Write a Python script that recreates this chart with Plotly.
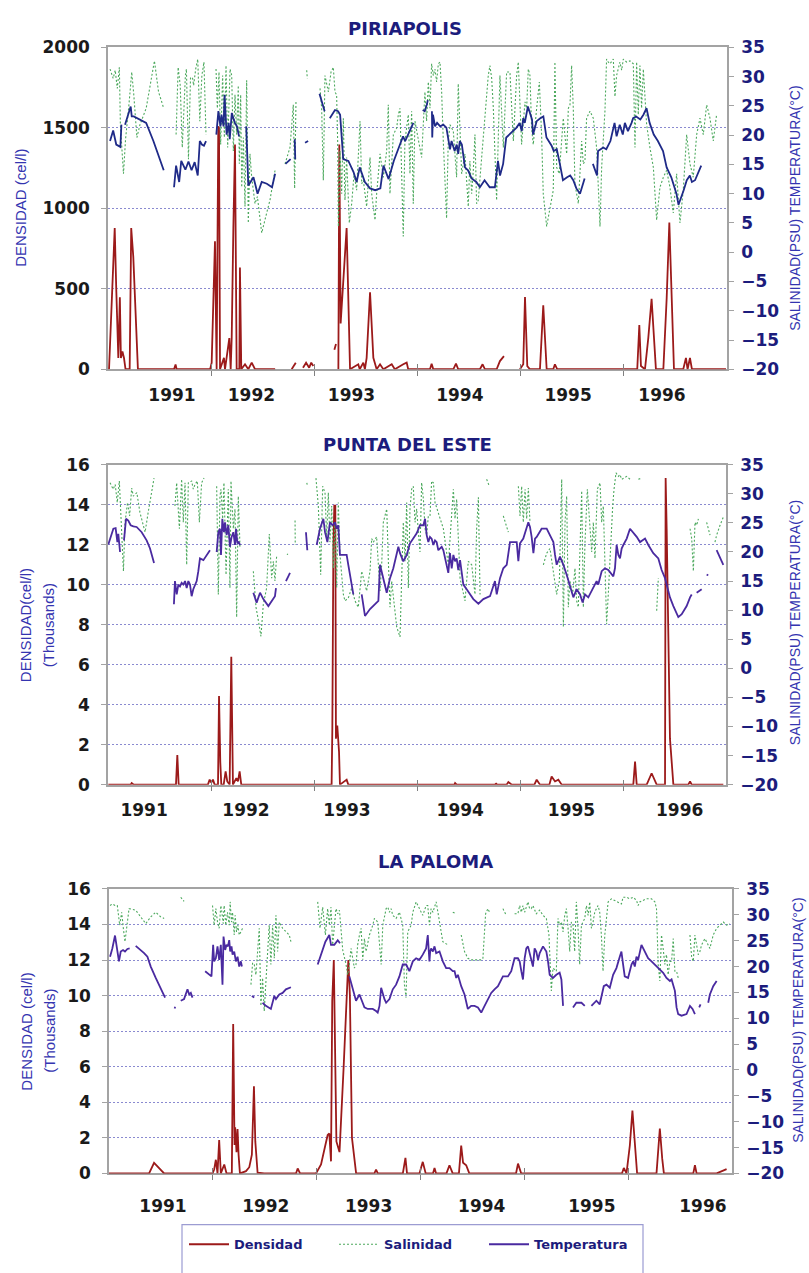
import plotly.graph_objects as go

# ---------------------------------------------------------------------------
# Data: (decimal year, value) segments; a new segment starts after a gap.
# Temperature / salinity on the right axis, density on the left axis.
# ---------------------------------------------------------------------------
YEAR_LABELS = ["1991", "1992", "1993", "1994", "1995", "1996"]
YEAR_BOUNDS = [1991, 1992, 1993, 1994, 1995, 1996, 1997]

piri_label_pos = [1991.62, 1992.39, 1993.36, 1994.41, 1995.46, 1996.37]
punta_label_pos = [1991.35, 1992.34, 1993.32, 1994.42, 1995.50, 1996.55]
paloma_label_pos = [1991.52, 1992.51, 1993.50, 1994.59, 1995.65, 1996.72]

# ----------------------------- PIRIAPOLIS ---------------------------------
piri_temp = [
    [(1991.02, 19.0), (1991.05, 20.8), (1991.08, 18.4), (1991.12, 18.0), (1991.13, 21.8)],
    [(1991.165, 21.8), (1991.21, 24.6), (1991.22, 24.9), (1991.23, 23.2), (1991.25, 23.2),
     (1991.37, 22.1), (1991.44, 19.0), (1991.54, 14.0)],
    [(1991.64, 11.1), (1991.66, 14.8), (1991.69, 12.0), (1991.71, 15.6), (1991.75, 14.1),
     (1991.78, 15.5), (1991.81, 14.0), (1991.84, 15.4), (1991.87, 13.1), (1991.89, 19.0),
     (1991.91, 18.4), (1991.93, 18.2), (1991.95, 19.0)],
    [(1992.05, 20.1), (1992.07, 24.1), (1992.09, 21.5), (1992.10, 23.5), (1992.12, 21.5),
     (1992.13, 26.9), (1992.15, 20.1), (1992.17, 22.1), (1992.18, 19.3), (1992.20, 23.8),
     (1992.215, 22.9), (1992.23, 22.1), (1992.25, 21.5), (1992.26, 20.7), (1992.27, 19.8)],
    [(1992.34, 21.5), (1992.36, 11.4), (1992.41, 12.8), (1992.45, 10.0), (1992.49, 12.0),
     (1992.54, 11.7), (1992.59, 11.1), (1992.62, 13.4)],
    [(1992.72, 15.1), (1992.77, 15.9)],
    [(1992.81, 19.3), (1992.815, 15.9)],
    [(1992.91, 18.7), (1992.94, 19.0)],
    [(1993.05, 27.1), (1993.10, 24.1)],
    [(1993.15, 22.9), (1993.20, 24.3), (1993.23, 24.1), (1993.25, 23.5), (1993.28, 15.9),
     (1993.33, 15.6), (1993.38, 13.7), (1993.41, 12.0), (1993.44, 14.5), (1993.49, 12.0),
     (1993.54, 10.9), (1993.59, 10.6), (1993.64, 10.9), (1993.67, 14.8), (1993.72, 12.5),
     (1993.77, 15.6), (1993.83, 18.4), (1993.86, 19.8), (1993.88, 19.0), (1993.91, 20.1),
     (1993.96, 22.1)],
    [(1994.05, 24.3), (1994.07, 24.1), (1994.09, 25.2), (1994.10, 26.0)],
    [(1994.14, 24.1), (1994.143, 19.6), (1994.15, 23.5), (1994.17, 21.5), (1994.19, 22.1),
     (1994.22, 21.5), (1994.25, 21.8), (1994.28, 21.3), (1994.315, 17.6), (1994.33, 19.0),
     (1994.36, 17.3), (1994.38, 18.4), (1994.395, 16.8), (1994.41, 19.0), (1994.43, 18.4),
     (1994.46, 14.5), (1994.49, 14.0), (1994.525, 12.6), (1994.57, 12.0), (1994.605, 11.1),
     (1994.65, 12.3), (1994.70, 11.1), (1994.75, 11.1), (1994.78, 15.6), (1994.80, 13.1),
     (1994.83, 15.1), (1994.86, 19.6), (1994.91, 20.4), (1994.96, 21.3), (1994.99, 22.1),
     (1995.01, 20.7), (1995.025, 22.9), (1995.04, 22.1), (1995.07, 24.9), (1995.11, 22.7),
     (1995.12, 20.1), (1995.155, 22.4), (1995.19, 22.9), (1995.22, 23.2), (1995.25, 19.6),
     (1995.30, 18.2), (1995.32, 17.3), (1995.35, 17.6), (1995.38, 15.1), (1995.41, 12.3),
     (1995.45, 12.8), (1995.48, 13.1), (1995.51, 12.3), (1995.54, 10.9), (1995.575, 10.0),
     (1995.61, 12.3), (1995.62, 12.6)],
    [(1995.70, 15.1), (1995.74, 13.1), (1995.75, 17.3), (1995.80, 17.9), (1995.83, 17.6),
     (1995.87, 19.0), (1995.91, 22.1), (1995.93, 19.8), (1995.96, 21.8), (1995.99, 20.1),
     (1996.01, 22.1), (1996.04, 20.7), (1996.075, 22.1), (1996.09, 22.9), (1996.12, 23.2),
     (1996.16, 22.7), (1996.19, 23.5), (1996.22, 24.6), (1996.25, 22.1), (1996.29, 20.1),
     (1996.33, 19.0), (1996.38, 17.3), (1996.415, 14.5), (1996.46, 12.8), (1996.51, 10.0),
     (1996.53, 8.1), (1996.58, 10.6), (1996.61, 12.3), (1996.64, 13.1), (1996.66, 12.0),
     (1996.69, 12.3), (1996.72, 13.7), (1996.75, 14.8)],
]

piri_sal = [
    [(1991.02, 31.3), (1991.05, 29.7), (1991.07, 31.1), (1991.09, 28.0), (1991.11, 31.6),
     (1991.12, 21.8), (1991.15, 13.4), (1991.17, 19.3), (1991.20, 24.6), (1991.23, 30.8),
     (1991.25, 26.9), (1991.28, 19.6), (1991.31, 21.8), (1991.37, 24.6), (1991.45, 32.7),
     (1991.49, 27.4), (1991.54, 24.6)],
    [(1991.66, 20.1), (1991.68, 31.6), (1991.70, 28.5), (1991.72, 17.9), (1991.75, 30.2),
     (1991.76, 31.3), (1991.78, 15.9), (1991.80, 29.9), (1991.82, 29.7), (1991.83, 28.5),
     (1991.85, 31.3), (1991.87, 33.0), (1991.89, 22.4), (1991.91, 30.2), (1991.93, 32.5),
     (1991.95, 20.1)],
    [(1992.047, 31.3), (1992.06, 24.6), (1992.076, 30.8), (1992.092, 18.4), (1992.111, 30.2),
     (1992.128, 19.6), (1992.144, 31.9), (1992.16, 17.9), (1992.183, 31.3), (1992.199, 30.2),
     (1992.215, 17.3), (1992.231, 26.9), (1992.247, 20.1), (1992.263, 28.5), (1992.273, 15.1),
     (1992.286, 26.9), (1992.296, 11.1), (1992.312, 19.6), (1992.328, 7.8), (1992.344, 29.4),
     (1992.36, 5.0), (1992.376, 16.8), (1992.393, 12.8), (1992.425, 8.3), (1992.448, 9.5),
     (1992.49, 3.3), (1992.538, 6.7), (1992.57, 8.9), (1992.619, 14.0)],
    [(1992.716, 15.1), (1992.764, 17.9), (1992.796, 25.2), (1992.809, 10.9), (1992.822, 25.7)],
    [(1992.926, 31.1), (1992.932, 29.7)],
    [(1993.055, 28.0), (1993.071, 24.6), (1993.087, 12.3), (1993.103, 30.2), (1993.136, 27.4),
     (1993.162, 30.8), (1993.184, 31.6), (1993.2, 27.4), (1993.216, 26.9), (1993.226, 19.0),
     (1993.233, 4.4), (1993.249, 17.3), (1993.265, 10.0), (1993.281, 22.9), (1993.297, 8.9),
     (1993.313, 16.2), (1993.339, 5.0), (1993.362, 8.3), (1993.385, 13.4), (1993.41, 10.6),
     (1993.443, 22.4), (1993.459, 11.7), (1993.475, 12.3), (1993.507, 7.8), (1993.54, 16.2),
     (1993.556, 10.0), (1993.588, 5.5), (1993.604, 10.0), (1993.637, 16.8), (1993.669, 12.8),
     (1993.701, 17.3), (1993.717, 25.2), (1993.733, 10.0), (1993.766, 20.1), (1993.798, 21.2),
     (1993.814, 23.5), (1993.83, 24.6), (1993.846, 11.7), (1993.862, 2.7), (1993.878, 19.0),
     (1993.895, 21.2), (1993.911, 23.5), (1993.927, 13.4), (1993.943, 24.1), (1993.959, 8.3),
     (1993.975, 22.4), (1994.04, 16.2), (1994.056, 22.9), (1994.072, 27.4), (1994.088, 22.4),
     (1994.105, 29.1), (1994.121, 24.6), (1994.137, 32.2), (1994.153, 30.2), (1994.169, 31.3),
     (1994.185, 29.1), (1994.202, 32.2), (1994.218, 32.5), (1994.234, 27.4), (1994.25, 19.0),
     (1994.266, 13.4), (1994.282, 5.8), (1994.298, 19.0), (1994.315, 21.8), (1994.347, 20.7),
     (1994.363, 16.8), (1994.379, 12.8), (1994.395, 28.8), (1994.412, 20.1), (1994.428, 13.4),
     (1994.46, 16.8), (1994.492, 7.8), (1994.508, 15.6), (1994.525, 10.0), (1994.541, 14.0),
     (1994.557, 20.1), (1994.573, 8.3), (1994.589, 8.9), (1994.622, 16.2), (1994.654, 22.9),
     (1994.686, 30.2), (1994.702, 31.9), (1994.719, 29.7), (1994.735, 24.6), (1994.751, 15.1),
     (1994.767, 8.9), (1994.799, 30.2), (1994.832, 17.9), (1994.864, 30.8), (1994.896, 30.8),
     (1994.929, 19.0), (1994.961, 30.2), (1994.977, 32.5), (1995.009, 18.4), (1995.042, 25.7),
     (1995.058, 24.6), (1995.074, 31.3), (1995.09, 30.2), (1995.106, 21.2), (1995.122, 18.4),
     (1995.155, 24.6), (1995.181, 29.1), (1995.203, 20.1), (1995.219, 10.0), (1995.252, 4.4),
     (1995.284, 7.2), (1995.316, 10.6), (1995.332, 32.5), (1995.349, 14.5), (1995.374, 13.4),
     (1995.413, 22.9), (1995.446, 16.8), (1995.462, 24.6), (1995.478, 25.2), (1995.494, 31.9),
     (1995.51, 24.6), (1995.526, 11.7), (1995.559, 8.3), (1995.575, 14.5), (1995.591, 19.0),
     (1995.607, 15.1), (1995.623, 15.6), (1995.639, 22.9), (1995.672, 24.1), (1995.704, 22.9),
     (1995.736, 17.9), (1995.769, 4.4), (1995.785, 14.5), (1995.817, 24.1), (1995.833, 33.0),
     (1995.849, 32.5), (1995.866, 32.2), (1995.898, 33.0), (1995.914, 26.6), (1995.93, 30.2),
     (1995.962, 32.5), (1995.979, 31.1), (1995.995, 33.0), (1996.027, 32.5), (1996.059, 32.7),
     (1996.092, 32.2), (1996.108, 17.9), (1996.124, 32.5), (1996.14, 23.5), (1996.156, 31.9),
     (1996.172, 24.6), (1996.189, 31.3), (1996.221, 21.8), (1996.253, 17.9), (1996.286, 14.5),
     (1996.318, 5.5), (1996.35, 11.1), (1996.383, 12.8), (1996.415, 14.0), (1996.447, 11.1),
     (1996.479, 6.7), (1996.512, 13.4), (1996.544, 5.0), (1996.576, 10.6), (1996.609, 20.1),
     (1996.641, 15.1), (1996.673, 12.8), (1996.706, 20.1), (1996.738, 22.9), (1996.77, 20.1),
     (1996.803, 25.2), (1996.835, 22.9), (1996.867, 19.0), (1996.899, 23.5)],
]

piri_dens = [
    [(1991.01, 0), (1991.065, 877), (1991.08, 500), (1991.10, 70), (1991.115, 448),
     (1991.125, 70), (1991.14, 110), (1991.155, 70), (1991.17, 0), (1991.21, 0),
     (1991.225, 877), (1991.245, 700), (1991.29, 0), (1991.64, 0), (1991.655, 30),
     (1991.665, 0), (1991.99, 0), (1992.005, 41), (1992.037, 795), (1992.053, 0),
     (1992.069, 1510), (1992.076, 1500), (1992.086, 0), (1992.124, 71), (1992.134, 0),
     (1992.176, 194), (1992.189, 0), (1992.199, 194), (1992.215, 877), (1992.231, 1397),
     (1992.247, 0), (1992.273, 0), (1992.279, 632), (1992.292, 0), (1992.328, 31),
     (1992.36, 0), (1992.393, 41), (1992.425, 0), (1992.62, 0)],
    [(1992.78, 0), (1992.82, 41)],
    [(1992.89, 10), (1992.92, 41), (1992.95, 10), (1992.97, 41), (1992.99, 20)],
    [(1993.194, 122), (1993.21, 157)],
    [(1993.233, 0), (1993.242, 1397), (1993.249, 805), (1993.255, 285), (1993.313, 877),
     (1993.346, 0), (1993.426, 31), (1993.44, 0), (1993.475, 41), (1993.49, 0),
     (1993.507, 71), (1993.54, 479), (1993.572, 71), (1993.604, 0), (1993.637, 31),
     (1993.669, 0), (1993.75, 31), (1993.78, 0), (1993.862, 31), (1993.895, 41),
     (1993.91, 0), (1994.121, 0), (1994.137, 35), (1994.153, 0), (1994.347, 0),
     (1994.373, 35), (1994.395, 0), (1994.605, 0), (1994.631, 31), (1994.654, 0),
     (1994.767, 0), (1994.799, 51), (1994.838, 82)],
    [(1994.993, 0), (1995.025, 31), (1995.042, 449), (1995.064, 20), (1995.09, 0),
     (1995.187, 0), (1995.219, 398), (1995.252, 0), (1995.316, 0), (1995.332, 31),
     (1995.355, 0), (1996.13, 0), (1996.15, 275), (1996.166, 20), (1996.205, 0),
     (1996.237, 194), (1996.269, 438), (1996.311, 0), (1996.383, 0), (1996.415, 438),
     (1996.441, 911), (1996.463, 438), (1996.486, 0), (1996.576, 0), (1996.602, 71),
     (1996.618, 0), (1996.641, 71), (1996.66, 0), (1996.99, 0)],
]

# --------------------------- PUNTA DEL ESTE -------------------------------
punta_temp = [
    [(1991.003, 21.3), (1991.052, 24.0), (1991.074, 24.1), (1991.091, 21.7), (1991.10, 23.1),
     (1991.117, 20.0)],
    [(1991.155, 22.0), (1991.175, 25.7), (1991.197, 25.4), (1991.22, 24.6), (1991.246, 24.4),
     (1991.278, 24.3), (1991.327, 23.4), (1991.375, 22.0), (1991.408, 20.6), (1991.447, 18.1)],
    [(1991.64, 11.0), (1991.65, 15.0), (1991.667, 12.7), (1991.683, 14.4), (1991.699, 14.1),
     (1991.715, 14.7), (1991.731, 14.4), (1991.748, 15.0), (1991.764, 13.8), (1991.78, 15.0),
     (1991.796, 14.4), (1991.812, 12.4), (1991.828, 13.6), (1991.845, 14.4), (1991.861, 15.0),
     (1991.877, 16.7), (1991.893, 18.9), (1991.926, 18.6), (1991.958, 19.5), (1991.99, 20.3)],
    [(1992.055, 20.0), (1992.071, 23.4), (1992.087, 24.0), (1992.097, 19.5), (1992.11, 25.7),
     (1992.126, 23.4), (1992.136, 25.1), (1992.152, 22.9), (1992.168, 24.6), (1992.184, 20.9),
     (1992.20, 22.6), (1992.217, 23.4), (1992.233, 21.2), (1992.243, 24.0), (1992.256, 21.5),
     (1992.269, 21.7), (1992.282, 21.2)],
    [(1992.411, 13.0), (1992.443, 11.3), (1992.476, 13.0), (1992.508, 11.9), (1992.557, 10.7),
     (1992.589, 11.6), (1992.621, 12.4), (1992.631, 13.8)],
    [(1992.728, 15.0), (1992.767, 16.4)],
    [(1992.922, 23.4), (1992.935, 20.3)],
    [(1993.026, 21.2), (1993.058, 24.0), (1993.091, 25.7), (1993.107, 23.4), (1993.13, 21.7),
     (1993.155, 25.1), (1993.181, 24.6), (1993.204, 25.1), (1993.22, 24.0), (1993.236, 24.6),
     (1993.252, 19.5), (1993.317, 19.5), (1993.333, 17.8), (1993.382, 12.7)],
    [(1993.463, 12.7), (1993.495, 9.0), (1993.544, 10.2), (1993.625, 11.6), (1993.641, 17.8),
     (1993.657, 16.7), (1993.706, 13.0), (1993.738, 15.5), (1993.77, 17.2), (1993.819, 20.9),
     (1993.835, 19.8), (1993.867, 18.4), (1993.9, 19.5), (1993.932, 21.5), (1993.964, 22.3),
     (1993.997, 23.2), (1994.029, 24.6), (1994.062, 24.6), (1994.078, 25.7), (1994.094, 22.9),
     (1994.11, 21.7), (1994.126, 22.6), (1994.142, 22.3), (1994.159, 21.2), (1994.175, 22.0),
     (1994.191, 21.7), (1994.207, 20.3), (1994.24, 20.9), (1994.256, 20.3), (1994.288, 17.8),
     (1994.304, 16.4), (1994.32, 19.8), (1994.337, 17.2), (1994.353, 19.5), (1994.369, 18.4),
     (1994.385, 18.9), (1994.401, 16.9), (1994.418, 18.6), (1994.45, 14.4), (1994.482, 13.6),
     (1994.515, 12.7), (1994.547, 11.9), (1994.596, 11.1), (1994.644, 11.9), (1994.709, 12.4),
     (1994.757, 15.0), (1994.774, 12.7), (1994.79, 14.4), (1994.806, 15.5), (1994.838, 17.2),
     (1994.871, 17.8), (1994.903, 21.7), (1994.935, 21.7), (1994.968, 21.7), (1994.984, 18.4),
     (1995.0, 21.5), (1995.032, 22.3), (1995.081, 25.1), (1995.097, 24.3), (1995.113, 22.6),
     (1995.13, 19.8), (1995.146, 22.3), (1995.162, 22.6), (1995.21, 24.0), (1995.259, 24.0),
     (1995.291, 22.9), (1995.324, 21.7), (1995.34, 19.5), (1995.356, 17.8), (1995.388, 19.2),
     (1995.421, 17.8), (1995.453, 16.1), (1995.485, 14.1), (1995.518, 12.2), (1995.55, 13.6),
     (1995.583, 12.7), (1995.608, 11.3), (1995.631, 12.7), (1995.663, 12.2), (1995.696, 13.3),
     (1995.728, 14.4), (1995.744, 15.0), (1995.76, 14.4), (1995.793, 16.7), (1995.825, 17.2),
     (1995.857, 16.9), (1995.906, 15.8), (1995.922, 17.2), (1995.938, 21.2), (1995.955, 19.5),
     (1995.971, 18.9), (1995.987, 20.6), (1996.003, 21.2), (1996.036, 22.3), (1996.068, 24.0),
     (1996.1, 23.4), (1996.133, 22.6), (1996.165, 21.7), (1996.214, 22.3), (1996.246, 21.2),
     (1996.294, 19.8), (1996.343, 18.9), (1996.375, 16.9), (1996.408, 15.5), (1996.456, 12.2),
     (1996.489, 10.7), (1996.537, 8.8), (1996.57, 9.3), (1996.618, 10.7), (1996.651, 12.2),
     (1996.667, 12.7)],
    [(1996.715, 13.0), (1996.764, 13.6)],
    [(1996.812, 16.1), (1996.828, 16.0)],
    [(1996.909, 20.3), (1996.974, 17.8)],
]

punta_sal = [
    [(1991.02, 31.9), (1991.05, 30.8), (1991.07, 31.6), (1991.09, 28.5), (1991.11, 32.2),
     (1991.13, 25.1), (1991.15, 16.7), (1991.165, 25.1), (1991.19, 28.5), (1991.21, 26.2),
     (1991.23, 31.0), (1991.246, 29.6), (1991.28, 30.2), (1991.31, 26.8), (1991.36, 23.4),
     (1991.39, 26.8), (1991.447, 32.7)],
    [(1991.65, 27.9), (1991.667, 31.9), (1991.693, 24.0), (1991.715, 32.5), (1991.731, 25.1),
     (1991.748, 31.9), (1991.764, 17.8), (1991.78, 31.9), (1991.812, 32.2), (1991.828, 30.8),
     (1991.845, 31.6), (1991.867, 32.2), (1991.887, 25.1), (1991.909, 31.9), (1991.932, 32.7)],
    [(1992.055, 31.3), (1992.071, 12.7), (1992.087, 29.6), (1992.097, 30.8), (1992.113, 25.7),
     (1992.126, 31.9), (1992.146, 16.1), (1992.168, 30.8), (1992.184, 13.8), (1992.194, 32.2),
     (1992.217, 24.0), (1992.233, 27.4), (1992.249, 8.8), (1992.265, 29.6), (1992.282, 20.6)],
    [(1992.411, 16.7), (1992.437, 10.5), (1992.46, 8.2), (1992.485, 5.5), (1992.508, 11.0),
     (1992.54, 13.8), (1992.566, 23.1), (1992.589, 15.5), (1992.605, 18.4), (1992.621, 15.0),
     (1992.638, 19.5)],
    [(1992.74, 19.5), (1992.745, 19.7)],
    [(1992.816, 25.4), (1992.818, 21.2)],
    [(1992.93, 31.9), (1992.935, 31.5)],
    [(1993.019, 32.7), (1993.042, 27.9), (1993.065, 16.1), (1993.084, 31.3), (1993.107, 30.2),
     (1993.123, 22.3), (1993.139, 30.2), (1993.155, 21.7), (1993.172, 27.9), (1993.188, 17.2),
     (1993.204, 25.1), (1993.22, 13.8), (1993.236, 28.5), (1993.252, 19.5), (1993.285, 12.7),
     (1993.301, 11.6), (1993.333, 12.1), (1993.366, 13.8), (1993.398, 11.6), (1993.43, 10.5),
     (1993.463, 16.7), (1993.479, 15.5), (1993.511, 13.3), (1993.544, 16.7), (1993.56, 22.3),
     (1993.576, 21.7), (1993.608, 22.6), (1993.641, 13.3), (1993.657, 17.8), (1993.673, 25.1),
     (1993.706, 27.4), (1993.722, 18.4), (1993.738, 10.5), (1993.754, 15.0), (1993.77, 12.7),
     (1993.803, 7.1), (1993.835, 5.4), (1993.867, 25.1), (1993.884, 18.4), (1993.9, 28.5),
     (1993.916, 13.8), (1993.932, 27.4), (1993.948, 30.8), (1993.964, 31.3), (1993.981, 25.1),
     (1993.997, 27.4), (1994.013, 23.4), (1994.029, 20.0), (1994.045, 31.9), (1994.062, 29.1),
     (1994.078, 24.0), (1994.094, 22.9), (1994.11, 26.2), (1994.126, 26.2), (1994.142, 32.2),
     (1994.159, 31.9), (1994.175, 28.5), (1994.256, 24.0), (1994.304, 17.8), (1994.353, 30.8),
     (1994.369, 25.7), (1994.385, 29.1), (1994.418, 15.5), (1994.466, 11.6), (1994.498, 18.4),
     (1994.531, 17.8), (1994.563, 12.7), (1994.579, 24.0), (1994.596, 29.4), (1994.612, 12.7)],
    [(1994.676, 32.5), (1994.702, 31.3)],
    [(1994.838, 26.2), (1994.887, 23.4)],
    [(1994.984, 31.3), (1995.0, 26.2), (1995.016, 31.3), (1995.032, 25.1), (1995.049, 30.8),
     (1995.065, 25.7), (1995.081, 31.0), (1995.097, 25.1)],
    [(1995.227, 17.8), (1995.259, 19.8), (1995.291, 20.6), (1995.324, 16.7), (1995.356, 12.7),
     (1995.382, 15.0), (1995.405, 32.5), (1995.421, 7.1), (1995.437, 25.1), (1995.453, 29.6),
     (1995.469, 10.5), (1995.485, 15.0), (1995.511, 12.7), (1995.534, 17.2), (1995.55, 11.6),
     (1995.566, 10.5), (1995.583, 19.5), (1995.599, 30.5), (1995.615, 10.5), (1995.631, 21.7),
     (1995.654, 30.8), (1995.673, 25.1), (1995.696, 20.0), (1995.712, 25.1), (1995.728, 18.9),
     (1995.751, 30.8), (1995.777, 31.9), (1995.793, 25.1), (1995.809, 27.9), (1995.825, 17.8),
     (1995.841, 7.6), (1995.857, 12.7), (1995.874, 19.5), (1995.9, 27.9), (1995.913, 30.8),
     (1995.932, 33.6), (1995.955, 33.0), (1995.971, 33.3), (1995.987, 32.5), (1996.003, 32.7),
     (1996.036, 33.0), (1996.068, 32.5), (1996.084, 32.7)],
    [(1996.149, 32.5), (1996.181, 32.7)],
    [(1996.327, 9.9), (1996.343, 15.5)],
    [(1996.651, 24.0), (1996.667, 22.3), (1996.683, 16.7), (1996.699, 25.1), (1996.715, 24.6),
     (1996.732, 25.7)],
    [(1996.812, 25.1), (1996.828, 24.0), (1996.845, 22.9)],
    [(1996.893, 21.7), (1996.909, 22.9), (1996.942, 24.6), (1996.974, 26.0)],
]

punta_dens = [  # thousands of cells per litre
    [(1991.003, 0), (1991.22, 0), (1991.23, 0.08), (1991.25, 0), (1991.66, 0),
     (1991.673, 1.48), (1991.686, 0), (1991.97, 0), (1991.987, 0.25), (1992.003, 0.1),
     (1992.019, 0.25), (1992.035, 0), (1992.068, 0), (1992.078, 4.43), (1992.09, 1.15),
     (1992.1, 0), (1992.123, 0), (1992.142, 0.66), (1992.158, 0.16), (1992.181, 0),
     (1992.197, 6.4), (1992.207, 3.12), (1992.213, 0), (1992.246, 0.33), (1992.262, 0.16),
     (1992.278, 0.66), (1992.294, 0), (1993.171, 0), (1993.178, 2.79), (1993.188, 11.8),
     (1993.197, 13.95), (1993.207, 13.95), (1993.213, 2.3), (1993.226, 2.95), (1993.243, 1.64),
     (1993.252, 0), (1993.317, 0.25), (1993.333, 0), (1994.363, 0), (1994.37, 0.08),
     (1994.385, 0), (1994.755, 0), (1994.768, 0.05), (1994.78, 0), (1994.87, 0),
     (1994.887, 0.13), (1994.92, 0), (1995.14, 0), (1995.162, 0.25), (1995.194, 0),
     (1995.285, 0), (1995.307, 0.41), (1995.34, 0.16), (1995.372, 0.25), (1995.405, 0),
     (1996.1, 0), (1996.117, 1.15), (1996.133, 0), (1996.23, 0), (1996.278, 0.57),
     (1996.327, 0), (1996.408, 0), (1996.414, 15.34), (1996.424, 12.8), (1996.456, 2.3),
     (1996.489, 0), (1996.634, 0), (1996.651, 0.16), (1996.667, 0), (1996.974, 0)],
]

# ------------------------------ LA PALOMA ---------------------------------
paloma_temp = [
    [(1991.01, 21.9), (1991.032, 23.5), (1991.058, 26.0), (1991.08, 22.9), (1991.096, 21.0),
     (1991.113, 22.9), (1991.135, 23.2), (1991.154, 22.9), (1991.177, 23.4), (1991.199, 23.5)],
    [(1991.257, 24.0), (1991.289, 23.5), (1991.338, 22.6), (1991.37, 21.9), (1991.402, 20.0),
     (1991.45, 17.8), (1991.498, 15.6), (1991.54, 14.0)],
    [(1991.627, 12.1), (1991.643, 12.0)],
    [(1991.691, 13.4), (1991.723, 13.7), (1991.756, 15.6), (1991.772, 14.6), (1991.788, 14.9),
     (1991.804, 14.0)],
    [(1991.926, 19.1), (1991.965, 18.4), (1991.987, 18.1), (1992.003, 24.2), (1992.013, 21.0),
     (1992.029, 21.6), (1992.045, 23.9), (1992.061, 21.3), (1992.077, 24.2), (1992.093, 16.5),
     (1992.103, 25.8), (1992.119, 23.2), (1992.132, 24.2), (1992.145, 23.9), (1992.158, 25.1),
     (1992.167, 22.9), (1992.18, 23.9), (1992.19, 22.3), (1992.206, 22.9), (1992.222, 21.0),
     (1992.238, 21.9), (1992.254, 20.0), (1992.27, 21.0), (1992.28, 20.0)],
    [(1992.376, 14.3), (1992.399, 14.0)],
    [(1992.479, 13.0), (1992.511, 12.4), (1992.559, 11.8), (1992.592, 14.3), (1992.608, 13.7),
     (1992.64, 14.6), (1992.672, 14.9), (1992.704, 15.6), (1992.752, 16.0)],
    [(1993.01, 20.4), (1993.084, 24.8), (1993.122, 26.1), (1993.138, 24.2), (1993.17, 24.2),
     (1993.203, 25.1), (1993.225, 24.5)],
    [(1993.315, 18.1), (1993.379, 13.4), (1993.412, 14.6), (1993.46, 12.1), (1993.492, 11.8),
     (1993.54, 11.8), (1993.572, 11.4), (1993.588, 11.1), (1993.605, 12.4), (1993.621, 15.9),
     (1993.653, 13.7), (1993.669, 13.0), (1993.701, 13.7), (1993.733, 15.6), (1993.765, 16.5),
     (1993.797, 18.1), (1993.829, 20.4), (1993.861, 20.4), (1993.893, 19.1), (1993.926, 21.0),
     (1993.958, 21.6), (1993.99, 21.3), (1994.022, 22.3), (1994.054, 23.5), (1994.07, 26.1),
     (1994.086, 21.0), (1994.093, 22.9), (1994.102, 23.5), (1994.119, 22.9), (1994.135, 23.9),
     (1994.151, 22.6), (1994.183, 22.9), (1994.215, 21.0), (1994.247, 19.7), (1994.279, 19.7),
     (1994.311, 19.1), (1994.328, 19.1), (1994.344, 17.8), (1994.36, 18.4), (1994.392, 16.2),
     (1994.424, 14.6), (1994.456, 11.8), (1994.488, 12.4), (1994.52, 12.4), (1994.553, 12.1),
     (1994.585, 11.1), (1994.617, 12.4), (1994.649, 13.7), (1994.681, 14.9), (1994.713, 15.6),
     (1994.746, 16.2), (1994.794, 18.1), (1994.842, 18.1), (1994.874, 19.1), (1994.906, 21.6),
     (1994.938, 21.6), (1994.955, 21.0), (1994.971, 19.1), (1994.987, 17.5), (1995.003, 21.6),
     (1995.019, 23.5), (1995.035, 23.9), (1995.051, 22.6), (1995.083, 20.0), (1995.099, 23.5),
     (1995.115, 22.9), (1995.132, 21.3), (1995.148, 22.6), (1995.18, 23.9), (1995.212, 22.9),
     (1995.228, 21.0), (1995.244, 18.4), (1995.276, 17.8), (1995.308, 18.4), (1995.34, 18.8),
     (1995.357, 17.5), (1995.373, 12.4)],
    [(1995.469, 12.1), (1995.501, 13.0), (1995.55, 13.0), (1995.582, 12.4)],
    [(1995.646, 12.4), (1995.694, 13.4), (1995.726, 12.7), (1995.742, 14.0), (1995.765, 16.2),
     (1995.791, 16.5), (1995.823, 15.9), (1995.855, 18.4), (1995.887, 19.7), (1995.919, 21.9),
     (1995.935, 22.9), (1995.951, 20.4), (1995.967, 18.1), (1995.999, 17.8), (1996.032, 20.4),
     (1996.048, 21.0), (1996.064, 20.0), (1996.08, 21.9), (1996.096, 21.3), (1996.128, 24.2),
     (1996.16, 22.9), (1996.192, 21.6), (1996.225, 21.0), (1996.273, 20.0), (1996.305, 19.4),
     (1996.337, 18.8), (1996.369, 17.8), (1996.402, 17.2), (1996.418, 17.5), (1996.45, 15.3),
     (1996.466, 12.1), (1996.482, 10.8), (1996.514, 10.5), (1996.562, 10.8), (1996.595, 12.4),
     (1996.62, 11.8), (1996.643, 10.8)],
    [(1996.684, 12.1), (1996.697, 12.7)],
    [(1996.771, 13.0), (1996.787, 14.6), (1996.819, 16.2), (1996.852, 17.2)],
]

paloma_sal = [
    [(1991.01, 31.8), (1991.032, 32.1), (1991.058, 31.8), (1991.08, 31.8), (1991.103, 28.0),
     (1991.122, 30.5), (1991.138, 27.4), (1991.154, 24.8), (1991.177, 28.6), (1991.193, 31.2),
     (1991.257, 30.9), (1991.305, 29.6), (1991.354, 28.3), (1991.402, 29.6), (1991.45, 30.5),
     (1991.498, 29.6), (1991.531, 29.3)],
    [(1991.691, 33.4), (1991.723, 32.6)],
    [(1991.997, 31.8), (1992.013, 28.0), (1992.029, 31.2), (1992.045, 28.6), (1992.061, 27.4),
     (1992.077, 31.8), (1992.087, 30.5), (1992.1, 28.3), (1992.109, 31.8), (1992.125, 28.0),
     (1992.141, 30.5), (1992.158, 28.0), (1992.167, 32.5), (1992.18, 28.6), (1992.19, 30.5),
     (1992.206, 26.1), (1992.215, 29.9), (1992.228, 26.7), (1992.241, 28.0), (1992.254, 26.1),
     (1992.27, 26.7), (1992.286, 27.4)],
    [(1992.367, 16.5), (1992.383, 20.7), (1992.399, 20.4), (1992.415, 18.4), (1992.431, 22.9),
     (1992.447, 27.4), (1992.463, 12.4), (1992.479, 17.8), (1992.495, 11.4), (1992.511, 17.2),
     (1992.527, 21.6), (1992.543, 28.0), (1992.559, 20.4), (1992.576, 28.0), (1992.592, 21.6),
     (1992.608, 29.9), (1992.624, 22.9), (1992.64, 28.6), (1992.672, 27.4), (1992.704, 26.7),
     (1992.736, 26.1), (1992.752, 24.8)],
    [(1993.01, 32.5), (1993.032, 27.4), (1993.058, 31.5), (1993.084, 26.1), (1993.106, 31.2),
     (1993.122, 28.0), (1993.138, 31.5), (1993.154, 24.2), (1993.186, 31.2), (1993.203, 30.2),
     (1993.219, 30.9), (1993.235, 26.1), (1993.251, 23.2), (1993.283, 20.4), (1993.299, 18.4),
     (1993.315, 20.4), (1993.331, 23.5), (1993.347, 21.6), (1993.363, 19.7), (1993.379, 20.4),
     (1993.395, 24.2), (1993.412, 26.1), (1993.428, 27.4), (1993.444, 21.3), (1993.46, 25.4),
     (1993.476, 22.9), (1993.508, 26.1), (1993.54, 28.0), (1993.556, 29.3), (1993.588, 28.6),
     (1993.621, 20.4), (1993.637, 28.0), (1993.669, 31.2), (1993.685, 31.5), (1993.701, 30.5),
     (1993.717, 31.2), (1993.733, 29.9), (1993.765, 29.3), (1993.797, 30.5), (1993.829, 28.0),
     (1993.845, 16.5), (1993.861, 14.0), (1993.877, 26.7), (1993.91, 28.0), (1993.926, 30.5),
     (1993.958, 32.5), (1993.99, 31.2), (1994.022, 29.9), (1994.054, 31.8), (1994.07, 31.8),
     (1994.086, 28.0), (1994.102, 31.2), (1994.119, 30.5), (1994.151, 32.5), (1994.215, 24.8),
     (1994.263, 24.2)],
    [(1994.311, 30.5), (1994.344, 30.2)],
    [(1994.392, 26.1), (1994.424, 22.9), (1994.456, 21.6), (1994.488, 21.3), (1994.537, 21.3),
     (1994.585, 21.3), (1994.601, 21.6), (1994.627, 30.2), (1994.649, 31.2), (1994.665, 30.5)],
    [(1994.794, 31.2), (1994.826, 29.9)],
    [(1994.906, 30.2), (1994.938, 30.2), (1994.955, 31.8), (1994.971, 30.5), (1994.987, 31.8),
     (1995.003, 30.5), (1995.035, 32.5), (1995.051, 31.2), (1995.067, 31.2), (1995.083, 31.8),
     (1995.115, 30.2), (1995.148, 30.9), (1995.18, 29.9), (1995.212, 29.3), (1995.237, 26.1),
     (1995.26, 15.3), (1995.276, 19.7), (1995.308, 19.1), (1995.324, 29.3), (1995.34, 28.0),
     (1995.357, 28.6), (1995.373, 26.7), (1995.389, 29.9), (1995.405, 31.2), (1995.421, 27.4),
     (1995.437, 22.9), (1995.453, 28.6), (1995.469, 28.0), (1995.485, 22.9), (1995.501, 32.5),
     (1995.517, 27.4), (1995.533, 20.4), (1995.55, 28.0), (1995.582, 29.3), (1995.598, 31.8),
     (1995.614, 29.9), (1995.63, 32.5), (1995.646, 27.4), (1995.662, 28.6), (1995.678, 30.5),
     (1995.694, 31.2), (1995.71, 31.8), (1995.726, 30.5), (1995.742, 26.1), (1995.758, 19.1),
     (1995.775, 26.1), (1995.791, 29.3), (1995.807, 32.5), (1995.839, 33.1), (1995.871, 32.8),
     (1995.903, 32.5), (1995.935, 32.1), (1995.951, 33.4), (1995.984, 33.4), (1996.016, 33.1),
     (1996.048, 33.4), (1996.08, 32.8), (1996.096, 31.8), (1996.112, 32.5), (1996.144, 32.8),
     (1996.176, 33.1), (1996.225, 33.1), (1996.257, 32.5), (1996.273, 31.2), (1996.289, 20.4),
     (1996.305, 17.2), (1996.321, 26.1), (1996.337, 23.5), (1996.353, 20.4), (1996.369, 22.3),
     (1996.385, 18.4), (1996.402, 21.0), (1996.418, 21.0), (1996.434, 25.4), (1996.45, 19.1),
     (1996.466, 19.1), (1996.482, 17.8)],
    [(1996.595, 26.1), (1996.611, 21.9), (1996.627, 21.0), (1996.643, 26.1), (1996.659, 24.2),
     (1996.675, 22.3), (1996.691, 22.9), (1996.707, 24.2), (1996.723, 24.8), (1996.739, 25.4),
     (1996.755, 24.8), (1996.771, 24.2), (1996.787, 23.5), (1996.819, 26.1), (1996.852, 27.4),
     (1996.884, 28.0), (1996.916, 28.6), (1996.948, 28.0), (1996.98, 28.3)],
]

paloma_dens = [  # thousands of cells per litre
    [(1991.0, 0), (1991.386, 0), (1991.434, 0.6), (1991.531, 0), (1991.997, 0),
     (1992.013, 0.22), (1992.029, 0.77), (1992.045, 0), (1992.061, 1.88), (1992.077, 0),
     (1992.11, 0.5), (1992.132, 0), (1992.183, 0), (1992.196, 8.4), (1992.209, 1.6),
     (1992.215, 2.6), (1992.228, 1.2), (1992.238, 2.5), (1992.248, 1.05), (1992.261, 0),
     (1992.319, 0.13), (1992.351, 0.35), (1992.376, 1.05), (1992.396, 4.9), (1992.409, 1.8),
     (1992.431, 0.04), (1992.495, 0), (1992.801, 0), (1992.817, 0.28), (1992.84, 0),
     (1992.994, 0), (1993.042, 0.5), (1993.084, 1.6), (1993.106, 2.16), (1993.122, 2.25),
     (1993.138, 0.68), (1993.15, 9.7), (1993.165, 12.0), (1993.19, 1.8), (1993.22, 1.2),
     (1993.26, 6.0), (1993.29, 10.0), (1993.305, 12.0), (1993.32, 10.0), (1993.34, 2.0),
     (1993.38, 0), (1993.556, 0), (1993.572, 0.22), (1993.589, 0), (1993.83, 0),
     (1993.855, 0.87), (1993.87, 0), (1993.99, 0), (1994.022, 0.65), (1994.05, 0),
     (1994.12, 0), (1994.135, 0.31), (1994.15, 0), (1994.25, 0), (1994.279, 0.46),
     (1994.31, 0), (1994.37, 0), (1994.392, 1.57), (1994.41, 0.6), (1994.44, 0.46),
     (1994.47, 0), (1994.92, 0), (1994.939, 0.55), (1994.97, 0), (1995.94, 0),
     (1995.958, 0.31), (1995.984, 0), (1996.016, 1.57), (1996.041, 3.54), (1996.064, 1.57),
     (1996.086, 0), (1996.273, 0), (1996.289, 1.57), (1996.305, 2.53), (1996.328, 0.83),
     (1996.344, 0), (1996.627, 0), (1996.643, 0.46), (1996.659, 0), (1996.852, 0),
     (1996.948, 0.24)],
]

# ---------------------------------------------------------------------------
DENS_COLOR = "#9c1a1a"
SAL_COLOR = "#4da95e"
TEMP_NAVY = "#1f2a88"
TEMP_PURPLE = "#4a2aa0"
NAVY = "#1c1c7c"
AXIS_BLUE = "#3434b0"
FRAME = "#a3a3a3"
GRID = "#8a8ad0"

W, H = 809, 1273


def flatten(segments):
    xs, ys = [], []
    for seg in segments:
        if xs:
            xs.append(None)
            ys.append(None)
        for t, v in seg:
            xs.append(t)
            ys.append(v)
    return xs, ys


def px_x(p):
    return p / W


def px_y(p):
    return 1 - p / H


panels = [
    dict(name="PIRIAPOLIS", dens=piri_dens, sal=piri_sal, temp=piri_temp, tcol=TEMP_NAVY,
         labels=piri_label_pos, xdom=(108, 727), ydom=(365, 38),
         drange=[0, 2000], dtick=500, standoff=10),
    dict(name="PUNTA DEL ESTE", dens=punta_dens, sal=punta_sal, temp=punta_temp, tcol=TEMP_PURPLE,
         labels=punta_label_pos, xdom=(108, 726), ydom=(787, 462),
         drange=[0, 16], dtick=2, standoff=9),
    dict(name="LA PALOMA", dens=paloma_dens, sal=paloma_sal, temp=paloma_temp, tcol=TEMP_PURPLE,
         labels=paloma_label_pos, xdom=(109, 732), ydom=(1182, 893),
         drange=[0, 16], dtick=2, standoff=16),
]

TICK_FONT = dict(family="DejaVu Sans", size=17, color="#1a1a1a", weight="bold")
RTICK_FONT = dict(family="DejaVu Sans", size=17, color=NAVY, weight="bold")

fig = go.Figure()
layout = {}
for i, p in enumerate(panels):
    n = i + 1
    m = i + 4
    xa, ya = f"x{n}" if n > 1 else "x", f"y{n}" if n > 1 else "y"
    xo, yo = f"x{m}", f"y{m}"
    last = (i == len(panels) - 1)

    dx, dy = flatten(p["dens"])
    sx, sy = flatten(p["sal"])
    tx, ty = flatten(p["temp"])
    fig.add_trace(go.Scatter(x=dx, y=dy, mode="lines", name="Densidad", xaxis=xa, yaxis=ya,
                             line=dict(color=DENS_COLOR, width=1.8), showlegend=last,
                             legendrank=1))
    fig.add_trace(go.Scatter(x=sx, y=sy, mode="lines", name="Salinidad", xaxis=xo, yaxis=yo,
                             line=dict(color=SAL_COLOR, width=1.1, dash="2px,2px"),
                             showlegend=last, legendrank=2))
    fig.add_trace(go.Scatter(x=tx, y=ty, mode="lines", name="Temperatura", xaxis=xo, yaxis=yo,
                             line=dict(color=p["tcol"], width=1.8), showlegend=last,
                             legendrank=3))

    xdom = [px_x(p["xdom"][0]), px_x(p["xdom"][1])]
    ydom = [px_y(p["ydom"][0]), px_y(p["ydom"][1])]
    key_x = "xaxis" if n == 1 else f"xaxis{n}"
    key_y = "yaxis" if n == 1 else f"yaxis{n}"

    layout[key_x] = dict(
        domain=xdom, anchor=ya, range=[YEAR_BOUNDS[0], YEAR_BOUNDS[-1]],
        tickmode="array", tickvals=p["labels"], ticktext=YEAR_LABELS,
        ticks="", tickfont=TICK_FONT, ticklabelstandoff=p["standoff"],
        showgrid=False, zeroline=False, showline=True, linecolor=FRAME, linewidth=1.5,
        mirror=True, layer="below traces", fixedrange=True,
        minor=dict(tickmode="array", tickvals=YEAR_BOUNDS[1:-1], ticks="outside",
                   ticklen=5, tickwidth=1.2, tickcolor="#808080", showgrid=False),
    )
    layout[key_y] = dict(
        domain=ydom, anchor=xa, range=p["drange"], dtick=p["dtick"], tick0=0,
        ticks="outside", ticklen=5, tickcolor=FRAME, tickfont=TICK_FONT,
        ticklabelstandoff=8, showgrid=True, gridcolor=GRID, gridwidth=1, griddash="2px,2px",
        zeroline=False, showline=True, linecolor=FRAME, linewidth=1.5, fixedrange=True,
    )
    layout[f"xaxis{m}"] = dict(
        overlaying=xa, anchor=yo, range=[YEAR_BOUNDS[0], YEAR_BOUNDS[-1]],
        tickmode="array", tickvals=YEAR_BOUNDS[1:-1], ticks="inside", ticklen=5,
        tickwidth=1.2, tickcolor="#808080", showticklabels=False, showgrid=False,
        zeroline=False, showline=False, fixedrange=True,
    )
    layout[f"yaxis{m}"] = dict(
        overlaying=ya, anchor=xo, side="right", range=[-20, 35], dtick=5, tick0=-20,
        ticks="outside", ticklen=5, tickcolor=FRAME, tickfont=RTICK_FONT,
        ticklabelstandoff=4, showgrid=False, zeroline=False, showline=True,
        linecolor=FRAME, linewidth=1.5, fixedrange=True,
    )

annotations = []
# Panel titles
for text, cx, cy in [("PIRIAPOLIS", 405, 19), ("PUNTA DEL ESTE", 407, 441), ("LA PALOMA", 435, 865)]:
    annotations.append(dict(text=text, x=px_x(cx), y=px_y(cy), xref="paper", yref="paper",
                            showarrow=False, xanchor="center", yanchor="middle",
                            font=dict(family="DejaVu Sans", size=18, color=NAVY, weight="bold")))

AX_FONT = dict(family="Liberation Sans", size=15, color=AXIS_BLUE)
RAX_FONT = dict(family="Liberation Sans", size=14, color=AXIS_BLUE)
left_titles = [
    ("DENSIDAD (cel/l)", 21, 201),
    ("DENSIDAD(cel/l)", 25, 625), ("(Thousands)", 48, 625),
    ("DENSIDAD (cel/l)", 27, 1038), ("(Thousands)", 50, 1037),
]
for text, cx, cy in left_titles:
    annotations.append(dict(text=text, x=px_x(cx), y=px_y(cy), xref="paper", yref="paper",
                            showarrow=False, textangle=-90, xanchor="center", yanchor="middle",
                            font=AX_FONT))
for cx, cy in [(795, 202), (795, 623), (798, 1027)]:
    annotations.append(dict(text="SALINIDAD(PSU) TEMPERATURA(°C)", x=px_x(cx), y=px_y(cy),
                            xref="paper", yref="paper", showarrow=False, textangle=-90,
                            xanchor="center", yanchor="middle", font=RAX_FONT))

# Frame around the legend, running off the bottom edge of the page
legend_frame = dict(type="rect", xref="paper", yref="paper",
                    x0=px_x(182), x1=px_x(643), y0=px_y(1290), y1=px_y(1234),
                    line=dict(color="#9c9cd2", width=1.2), fillcolor="rgba(0,0,0,0)",
                    layer="above")

fig.update_layout(
    width=W, height=H, autosize=False,
    margin=dict(l=0, r=0, t=0, b=0),
    paper_bgcolor="white", plot_bgcolor="white",
    annotations=annotations,
    shapes=[legend_frame],
    legend=dict(orientation="h", x=px_x(184), y=px_y(1254), xanchor="left", yanchor="middle",
                borderwidth=0, bgcolor="rgba(0,0,0,0)", itemwidth=40,
                font=dict(family="DejaVu Sans", size=13, color=NAVY, weight="bold"),
                entrywidth=95, entrywidthmode="pixels", traceorder="normal"),
    **layout,
)

fig.write_html("out.html")
